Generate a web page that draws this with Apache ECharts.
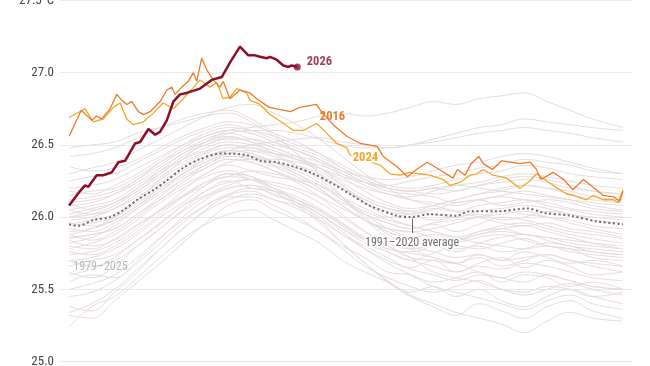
<!DOCTYPE html>
<html><head><meta charset="utf-8">
<script src="https://cdn.jsdelivr.net/npm/echarts@6/dist/echarts.min.js"></script>
<style>html,body{margin:0;padding:0;background:#fff}#c{width:650px;height:366px}</style>
</head><body><div id="c"></div>
<script>
const FONT = "'Roboto Condensed','Liberation Sans Narrow',Roboto,sans-serif";
const yTicks = [25.0, 25.5, 26.0, 26.5, 27.0, 27.5];
const bgDays = [0,15,30,45,60,75,90,105,120,135,150,165,180,195,210,225,240,255,270,285,300,315,330,345,365];
const bgYears = [
[25.24,25.38,25.45,25.58,25.72,25.85,25.95,26.02,26.05,25.98,25.90,25.82,25.70,25.62,25.55,25.48,25.52,25.45,25.50,25.42,25.38,25.45,25.50,25.45,25.40],
[25.32,25.30,25.42,25.55,25.68,25.82,25.96,26.08,26.12,26.05,25.98,25.90,25.80,25.72,25.62,25.60,25.55,25.58,25.62,25.55,25.60,25.58,25.52,25.55,25.50],
[25.38,25.35,25.48,25.62,25.78,25.92,26.05,26.15,26.18,26.12,26.08,26.00,25.88,25.80,25.72,25.65,25.70,25.62,25.68,25.72,25.65,25.70,25.66,25.60,25.62],
[25.55,25.60,25.58,25.70,25.85,26.00,26.12,26.20,26.22,26.15,26.10,26.02,25.92,25.82,25.76,25.70,25.75,25.80,25.78,25.82,25.85,25.80,25.78,25.72,25.70],
[25.62,25.58,25.66,25.80,25.92,26.05,26.18,26.25,26.20,26.18,26.12,26.05,25.95,25.85,25.78,25.75,25.72,25.68,25.74,25.70,25.76,25.72,25.68,25.70,25.66],
[25.70,25.72,25.78,25.88,26.00,26.10,26.22,26.30,26.28,26.22,26.18,26.10,26.00,25.90,25.82,25.78,25.80,25.76,25.82,25.86,25.88,25.84,25.80,25.78,25.76],
[25.66,25.70,25.74,25.84,25.95,26.08,26.15,26.22,26.26,26.20,26.14,26.06,25.96,25.86,25.80,25.72,25.62,25.58,25.55,25.50,25.48,25.52,25.50,25.45,25.48],
[25.78,25.82,25.88,25.98,26.10,26.20,26.28,26.32,26.28,26.20,26.10,25.98,25.82,25.68,25.55,25.45,25.38,25.32,25.40,25.35,25.30,25.38,25.42,25.35,25.30],
[25.80,25.78,25.85,25.95,26.05,26.18,26.30,26.36,26.32,26.28,26.25,26.18,26.10,26.02,25.96,25.92,25.95,25.90,25.95,26.00,25.98,25.94,25.90,25.88,25.85],
[25.74,25.76,25.82,25.92,26.05,26.15,26.24,26.28,26.32,26.30,26.26,26.22,26.14,26.06,26.00,26.02,26.05,26.10,26.12,26.15,26.18,26.15,26.12,26.08,26.05],
[25.85,25.88,25.92,26.02,26.12,26.22,26.30,26.38,26.40,26.40,26.38,26.34,26.28,26.24,26.22,26.25,26.28,26.30,26.34,26.36,26.40,26.38,26.36,26.32,26.30],
[25.90,25.92,25.98,26.08,26.18,26.28,26.36,26.42,26.40,26.35,26.28,26.20,26.08,25.98,25.90,25.86,25.88,25.84,25.90,25.92,25.88,25.86,25.82,25.80,25.78],
[25.95,25.98,26.02,26.12,26.22,26.32,26.40,26.46,26.44,26.38,26.32,26.24,26.12,26.02,25.96,25.92,25.96,25.98,26.00,26.04,26.02,26.00,25.98,25.94,25.92],
[26.00,26.02,26.08,26.18,26.28,26.38,26.45,26.50,26.46,26.42,26.36,26.30,26.20,26.10,26.04,26.02,26.06,26.04,26.08,26.10,26.12,26.08,26.05,26.02,26.00],
[25.88,25.84,25.90,26.00,26.12,26.24,26.34,26.40,26.38,26.32,26.24,26.14,26.02,25.90,25.80,25.72,25.70,25.68,25.72,25.66,25.70,25.74,25.70,25.66,25.62],
[26.05,26.08,26.12,26.22,26.32,26.40,26.48,26.52,26.50,26.46,26.40,26.32,26.22,26.12,26.06,26.04,26.08,26.12,26.16,26.20,26.22,26.20,26.16,26.12,26.10],
[26.10,26.05,26.10,26.18,26.30,26.42,26.50,26.55,26.52,26.44,26.36,26.26,26.14,26.02,25.92,25.86,25.82,25.78,25.80,25.76,25.78,25.82,25.80,25.76,25.74],
[25.98,26.00,26.06,26.16,26.26,26.36,26.44,26.48,26.48,26.44,26.40,26.34,26.26,26.20,26.16,26.14,26.18,26.22,26.24,26.28,26.30,26.28,26.25,26.22,26.20],
[26.15,26.18,26.20,26.28,26.38,26.46,26.54,26.58,26.54,26.48,26.42,26.34,26.22,26.10,26.00,25.94,25.90,25.86,25.90,25.94,25.96,25.92,25.88,25.85,25.82],
[25.82,25.86,25.94,26.06,26.18,26.30,26.40,26.46,26.50,26.52,26.54,26.55,26.52,26.50,26.48,26.50,26.52,26.55,26.58,26.60,26.62,26.60,26.58,26.55,26.52],
[26.48,26.50,26.52,26.58,26.62,26.66,26.70,26.72,26.66,26.56,26.44,26.30,26.14,25.98,25.86,25.78,25.72,25.68,25.62,25.58,25.55,25.60,25.56,25.52,25.50],
[25.92,25.90,25.96,26.06,26.16,26.26,26.36,26.42,26.42,26.38,26.34,26.28,26.20,26.12,26.06,26.02,25.98,26.00,26.02,25.98,26.00,26.04,26.02,25.98,25.96],
[26.02,26.06,26.10,26.20,26.30,26.40,26.46,26.50,26.48,26.44,26.40,26.36,26.30,26.24,26.20,26.18,26.20,26.18,26.22,26.24,26.26,26.24,26.20,26.18,26.16],
[26.20,26.22,26.26,26.34,26.42,26.50,26.56,26.60,26.58,26.52,26.46,26.38,26.28,26.18,26.10,26.06,26.08,26.12,26.16,26.18,26.22,26.20,26.18,26.14,26.12],
[26.42,26.44,26.48,26.55,26.62,26.68,26.72,26.74,26.68,26.58,26.44,26.30,26.14,26.00,25.88,25.80,25.76,25.72,25.74,25.70,25.72,25.74,25.70,25.68,25.66],
[26.10,26.12,26.16,26.24,26.34,26.44,26.50,26.54,26.54,26.50,26.46,26.40,26.32,26.24,26.18,26.16,26.14,26.10,26.12,26.08,26.10,26.12,26.10,26.06,26.04],
[26.00,26.04,26.10,26.20,26.32,26.44,26.52,26.58,26.60,26.60,26.58,26.54,26.50,26.48,26.48,26.50,26.54,26.58,26.62,26.64,26.68,26.66,26.64,26.62,26.60],
[26.30,26.34,26.38,26.46,26.54,26.62,26.70,26.76,26.78,26.72,26.64,26.54,26.42,26.30,26.20,26.12,26.08,26.04,26.00,25.96,25.94,25.96,25.92,25.90,25.86],
[25.88,25.92,26.00,26.12,26.26,26.40,26.52,26.60,26.62,26.64,26.66,26.70,26.72,26.70,26.72,26.76,26.80,26.78,26.82,26.84,26.86,26.80,26.74,26.68,26.62],
[26.08,26.10,26.16,26.26,26.38,26.48,26.56,26.60,26.58,26.52,26.46,26.40,26.30,26.22,26.16,26.12,26.10,26.08,26.12,26.14,26.12,26.10,26.06,26.04,26.02],
[26.18,26.16,26.22,26.30,26.40,26.50,26.58,26.62,26.60,26.56,26.50,26.44,26.36,26.28,26.22,26.20,26.22,26.26,26.30,26.32,26.36,26.34,26.30,26.28,26.26],
[26.05,26.02,26.06,26.14,26.24,26.34,26.42,26.46,26.44,26.38,26.30,26.20,26.08,25.98,25.92,25.90,25.86,25.84,25.88,25.90,25.88,25.86,25.84,25.82,25.80],
[26.35,26.32,26.34,26.40,26.48,26.56,26.62,26.66,26.64,26.58,26.52,26.44,26.34,26.26,26.20,26.18,26.20,26.22,26.20,26.18,26.16,26.14,26.12,26.10,26.08],
[25.70,25.66,25.70,25.80,25.92,26.04,26.14,26.20,26.22,26.18,26.12,26.04,25.94,25.84,25.76,25.70,25.66,25.62,25.66,25.64,25.68,25.66,25.62,25.58,25.56],
[25.60,25.64,25.72,25.84,25.96,26.08,26.18,26.24,26.26,26.24,26.20,26.14,26.06,25.98,25.92,25.90,25.92,25.96,26.00,26.02,26.04,26.00,25.96,25.92,25.88],
[25.45,25.48,25.56,25.68,25.82,25.96,26.08,26.16,26.20,26.16,26.10,26.02,25.92,25.84,25.78,25.76,25.80,25.84,25.88,25.92,25.94,25.90,25.86,25.82,25.78],
[25.84,25.80,25.84,25.94,26.04,26.14,26.22,26.28,26.26,26.20,26.12,26.02,25.90,25.78,25.68,25.60,25.52,25.48,25.44,25.40,25.36,25.42,25.46,25.40,25.36],
[25.76,25.74,25.80,25.90,26.02,26.14,26.24,26.30,26.26,26.18,26.08,25.96,25.82,25.68,25.56,25.46,25.40,25.34,25.30,25.26,25.20,25.28,25.34,25.30,25.28],
[25.50,25.54,25.60,25.72,25.86,25.98,26.08,26.14,26.14,26.08,26.00,25.90,25.78,25.66,25.58,25.52,25.48,25.52,25.56,25.50,25.46,25.50,25.54,25.50,25.46],
[25.96,25.94,25.98,26.08,26.20,26.30,26.38,26.44,26.46,26.44,26.42,26.38,26.32,26.28,26.26,26.28,26.32,26.36,26.38,26.42,26.44,26.42,26.38,26.34,26.30],
[26.25,26.28,26.30,26.38,26.46,26.54,26.60,26.64,26.60,26.54,26.48,26.42,26.34,26.26,26.20,26.18,26.16,26.18,26.22,26.26,26.28,26.26,26.22,26.18,26.16],
[25.86,25.88,25.92,26.02,26.14,26.26,26.34,26.40,26.38,26.32,26.26,26.18,26.08,25.98,25.90,25.84,25.80,25.82,25.86,25.88,25.84,25.80,25.78,25.76,25.74],
[25.94,25.96,26.00,26.10,26.20,26.30,26.38,26.44,26.42,26.36,26.30,26.22,26.12,26.04,25.98,25.94,25.90,25.86,25.82,25.80,25.78,25.80,25.76,25.74,25.72],
[26.12,26.14,26.18,26.26,26.36,26.46,26.52,26.56,26.52,26.48,26.42,26.34,26.24,26.14,26.08,26.04,26.02,26.00,26.04,26.06,26.08,26.06,26.02,26.00,25.98],
[25.34,25.40,25.50,25.64,25.78,25.92,26.04,26.12,26.16,26.12,26.06,25.98,25.88,25.78,25.70,25.64,25.60,25.56,25.60,25.58,25.62,25.60,25.56,25.52,25.50]
];
const avgDays = [0,6,16,27,36,45,56,64,75,86,100,117,126,137,148,161,174,185,198,216,225,238,255,264,282,302,313,330,348,365];
const avgValues = [25.95,25.94,25.98,26.00,26.05,26.12,26.19,26.25,26.34,26.40,26.44,26.43,26.39,26.38,26.35,26.30,26.23,26.16,26.08,26.01,26.00,26.02,26.01,26.04,26.04,26.06,26.03,26.01,25.97,25.95];
const y2016 = [[0,26.56],[8,26.74],[15,26.67],[18,26.70],[21.5,26.68],[27,26.75],[31.4,26.85],[34.7,26.81],[38,26.78],[41.3,26.80],[45.7,26.73],[49,26.71],[53.4,26.73],[60,26.80],[64.4,26.88],[67.7,26.90],[69.8,26.85],[74.2,26.90],[78.6,26.94],[81.9,27.00],[84.1,26.94],[87.4,27.10],[90.7,27.02],[95,26.95],[99.5,26.90],[101.6,26.94],[106,26.82],[112.6,26.88],[119.2,26.86],[123.6,26.82],[132,26.76],[146,26.73],[152,26.76],[163,26.78],[167,26.72],[174,26.64],[183,26.56],[192,26.51],[203,26.49],[207,26.42],[216,26.35],[223,26.28],[229,26.33],[236,26.38],[244,26.33],[253,26.27],[256,26.33],[261,26.29],[265,26.37],[270,26.42],[273,26.37],[279,26.33],[285,26.39],[291,26.38],[297,26.37],[304,26.38],[308,26.33],[311,26.26],[319,26.31],[326,26.26],[332,26.19],[339,26.26],[345,26.21],[352,26.15],[359,26.14],[363,26.11],[365,26.18]];
const y2024 = [[0,26.69],[10.5,26.75],[16,26.66],[22.6,26.68],[29.2,26.76],[33.6,26.79],[38,26.68],[42.4,26.64],[49,26.66],[55.5,26.72],[62,26.79],[68.7,26.75],[75.3,26.82],[86.3,26.95],[92.9,26.90],[97.3,26.93],[101.6,26.82],[106,26.83],[110.5,26.89],[117,26.86],[119.2,26.81],[125.8,26.78],[132.4,26.71],[141.2,26.65],[147.8,26.60],[154.3,26.60],[163.2,26.65],[169.8,26.58],[176.4,26.51],[183,26.48],[185.1,26.43],[204.9,26.36],[211.5,26.30],[218,26.29],[224.6,26.31],[231.2,26.30],[237.8,26.29],[246.6,26.26],[251,26.22],[257.6,26.24],[264.2,26.29],[268.6,26.30],[273,26.33],[279.5,26.29],[288.3,26.27],[297.1,26.20],[303.7,26.25],[308.1,26.30],[314.7,26.25],[319,26.22],[327.9,26.16],[332.2,26.15],[341,26.12],[345.4,26.15],[352,26.12],[358.6,26.12],[361.9,26.10],[365,26.19]];
const y2026 = [[0,26.08],[7.2,26.18],[10.5,26.22],[12.7,26.21],[18.2,26.29],[22.4,26.29],[28.1,26.31],[32.5,26.38],[36.9,26.39],[43.5,26.51],[46.8,26.52],[52.3,26.61],[56.7,26.57],[59.9,26.59],[64.4,26.67],[68.7,26.80],[73.1,26.85],[77.5,26.86],[86.3,26.89],[94,26.95],[100.6,26.97],[106,27.07],[112.6,27.18],[118.1,27.12],[122.5,27.12],[125.8,27.11],[130.2,27.10],[132.4,27.11],[136.8,27.09],[141.2,27.05],[144.5,27.04],[146.7,27.05],[150.4,27.04]];

const gray = bgYears.map(vals => ({
  type:'line', data: vals.map((v,i)=>[bgDays[i], v]), smooth:0.4, showSymbol:false, silent:true,
  lineStyle:{color:'#e4dbdb', width:1}, z:1, animation:false
}));
const lbl = (coord, text, color, extra) => ({coord, value:text, symbolSize:1, itemStyle:{color:'transparent'},
  label:Object.assign({show:true, position:'inside', formatter:text, color, fontFamily:FONT, fontSize:12.5, fontWeight:'bold', textBorderColor:'#fff', textBorderWidth:3}, extra||{})});
const last2026 = y2026[y2026.length-1];

const option = {
  animation:false,
  grid:{left:60, right:18, top:0.5, bottom:4.5, containLabel:false, outerBoundsMode:'none'},
  xAxis:{type:'value', min:-6, max:371, show:false},
  yAxis:{type:'value', min:yTicks[0], max:yTicks[yTicks.length-1], interval:0.5,
    axisLine:{show:false}, axisTick:{show:false},
    splitLine:{lineStyle:{color:'#e9e9e9', width:1}},
    axisLabel:{margin:6, color:'#444', fontSize:13, fontFamily:FONT,
      formatter:v => v === 27.5 ? '27.5°C' : v.toFixed(1)}},
  series:[
    ...gray,
    {type:'line', data:avgValues.map((v,i)=>[avgDays[i], v]), smooth:0.3, showSymbol:false, silent:true, z:3,
      lineStyle:{color:'#6a6a6a', width:2, type:[2,2.6]},
      markLine:{silent:true, symbol:'none', label:{show:false}, lineStyle:{color:'#666', width:1, type:'solid'},
        data:[[{coord:[226,25.99]},{coord:[226,25.89]}]]},
      markPoint:{silent:true, data:[
        lbl([226,25.815], '1991–2020 average', '#6e6e6e', {fontWeight:'normal', fontSize:12}),
        lbl([2.6,25.648], '1979–2025', '#b9b9b9', {fontWeight:'normal', fontSize:12, position:'right', distance:0, textBorderWidth:0})
      ]}},
    {type:'line', data:y2024, showSymbol:false, silent:true, z:4, lineStyle:{color:'#f6a623', width:1.3},
      markPoint:{silent:true, data:[lbl([195.3,26.406], '2024', '#f2a52a')]}},
    {type:'line', data:y2016, showSymbol:false, silent:true, z:5, lineStyle:{color:'#ec7a2c', width:1.3},
      markPoint:{silent:true, data:[lbl([173.6,26.693], '2016', '#ec7a2c')]}},
    {type:'line', data:y2026, showSymbol:false, silent:true, z:6, lineStyle:{color:'#8c0f25', width:2.5}},
    {type:'scatter', data:[last2026], symbolSize:7, silent:true, z:7, itemStyle:{color:'#8c0f25'},
      label:{show:true, position:'right', distance:6, offset:[0,-5], formatter:'2026', color:'#8c0f25', fontFamily:FONT, fontSize:12.5, fontWeight:'bold'}}
  ]
};
echarts.init(document.getElementById('c'), null, {renderer:'canvas'}).setOption(option);
</script></body></html>
